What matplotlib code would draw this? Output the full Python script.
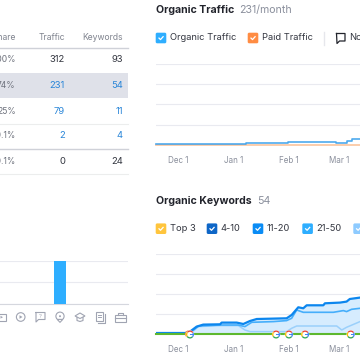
import matplotlib
matplotlib.use('Agg')

import matplotlib.pyplot as plt
from matplotlib.patches import Circle, FancyBboxPatch, Polygon, Rectangle, Wedge

plt.rcParams['font.family'] = ['Inter', 'DejaVu Sans']

# table
table_headers = ["Share", "Traffic", "Keywords"]
share_col = ["100%", "74%", "25%", "<0.1%", "<0.1%"]
traffic_col = ["312", "231", "79", "2", "0"]
keywords_col = ["93", "54", "11", "4", "24"]

# bar chart by category
bar_cats = [0, 1, 2, 3, 4, 5, 6]
bar_vals = [0, 0, 0, 100, 0, 0, 0]

# time axis, days since Dec 1
date_ticks = [0, 31, 62, 90]
date_labels = ["Dec 1", "Jan 1", "Feb 1", "Mar 1"]

# organic traffic
traffic_days = [-12.3, 15, 38, 61.5, 88.3, 94.2, 97, 101.7]
traffic_vals = [1.5, 3, 7, 12, 7, 17, 28, 28]
paid_days = [-12.3, 101.7]
paid_vals = [0, 0]

# organic keywords
kw_top_days = [-12.3, 4.9, 6.7, 10.4, 14.1, 23.5, 24.4, 32.8, 36.5, 40.2, 44, 60.7, 63.5,
               67.2, 70, 71.9, 81.2, 82.1, 90.5, 94.2, 96, 101.7]
kw_top_vals = [1.3, 1.3, 2.7, 7.7, 9.7, 10, 11.7, 11.7, 10.3, 13.3, 15.3, 16, 19.3,
               27, 26, 29, 29, 31, 31.7, 32.7, 35.3, 36.7]
kw_mid_days = [4.8, 8.6, 11.4, 23.5, 33.7, 37.4, 41.2, 53.3, 60.7, 63.5, 66.3, 70, 81.2,
               86.8, 92.4, 94.2, 97, 101.7]
kw_mid_vals = [2, 4.3, 8.3, 9.3, 9.3, 7.7, 12, 12.7, 13.7, 16, 24.3, 22, 22,
               22, 23.7, 22.7, 25, 26]
kw_low_days = [4.8, 8.6, 11.4, 23.5, 33.7, 37.4, 40.2, 53.3, 60.7, 63.5, 66.3, 88.7,
               91.5, 94.2, 101.7]
kw_low_vals = [2, 3.3, 7.7, 8.7, 8.7, 4.3, 2.7, 2.7, 2.7, 6, 8.3, 8.3, 4.3, 7, 12.7]
top3_days = [-12.3, 101.7]
top3_vals = [0, 0]
google_days = [6.7, 54.8, 62, 71, 96.5]

legend1 = [("Organic Traffic", "#2eaeff", 155.7), ("Paid Traffic", "#ff8c43", 247.7)]
legend2 = [("Top 3", "#ffc53d", 155.7), ("4-10", "#0e66c7", 206.7), ("11-20", "#0a8cf5", 252.7),
           ("21-50", "#2eaeff", 302.3), ("51-100", "#8ecbff", 353.3)]

GRID = "#e9eaf0"
TICK = "#8a8f9c"
DARK = "#333640"
LINK = "#2a86d8"


def px_axes(fig, left, top, right, bottom):
    return fig.add_axes([left / 360, 1 - bottom / 360, (right - left) / 360, (bottom - top) / 360])


def style_chart(ax, yticks):
    ax.set_xlim(-12.3, 101.7)
    ax.set_ylim(yticks[0], yticks[-1])
    ax.set_yticks(yticks)
    ax.set_xticks(date_ticks)
    ax.set_xticklabels(date_labels, fontsize=5.8, color=TICK)
    ax.tick_params(axis='x', length=0, pad=8)
    ax.tick_params(axis='y', length=0, labelleft=False)
    ax.grid(axis='y', color=GRID, linewidth=0.8)
    ax.set_axisbelow(True)
    for s in ax.spines.values():
        s.set_visible(False)


def checkbox(ov, x, y, color):
    ov.add_patch(FancyBboxPatch((x + 1.5, y - 3.8), 7.6, 7.6, boxstyle="round,pad=1.5", fc=color, ec='none'))
    ov.plot([x + 3.3, x + 4.8, x + 7.4], [y + 0.1, y + 1.6, y - 1.3], color='white', lw=0.9)


def legend(ov, items, y):
    for label, color, x in items:
        checkbox(ov, x, y, color)
        ov.text(x + 14, y, label, fontsize=6.7, color=DARK, va='center', ha='left')


def google(ov, x, y):
    ov.add_patch(Circle((x, y), 4.2, fc='white', ec='none', zorder=5))
    arcs = [(-45, 35, "#4285f4"), (35, 140, "#ea4335"), (140, 215, "#fbbc05"), (215, 315, "#34a853")]
    for t1, t2, c in arcs:
        # overlay y runs downwards, so flip the angles
        ov.add_patch(Wedge((x, y), 4.0, -t2, -t1, width=1.3, fc=c, ec='none', zorder=6))
    ov.add_patch(Rectangle((x, y - 0.5), 3.6, 1.1, fc="#4285f4", ec='none', zorder=7))


def draw_icons(ov, y):
    c = "#a0a4b2"
    kw = dict(fc='none', ec=c, lw=0.8)
    # video
    ov.add_patch(Rectangle((-3, y - 3), 8.5, 6.5, **kw))
    ov.add_patch(Polygon([[0.5, y - 1.2], [0.5, y + 1.6], [3, y + 0.2]], fc=c, ec='none'))
    # play
    ov.add_patch(Circle((20.7, y), 4.3, **kw))
    ov.add_patch(Polygon([[19.5, y - 1.8], [19.5, y + 1.8], [22.5, y]], fc=c, ec='none'))
    # question bubble
    ov.plot([36, 45, 45, 38.5, 36, 36], [y - 4.5, y - 4.5, y + 2.5, y + 2.5, y + 5, y - 4.5], color=c, lw=0.8)
    ov.text(40.5, y - 1, "?", fontsize=4, color=c, ha='center', va='center')
    # pin
    ov.add_patch(Circle((60, y - 0.8), 4.1, **kw))
    ov.add_patch(Polygon([[57.3, y + 2.4], [60, y + 5.4], [62.7, y + 2.4]], fc='white', ec=c, lw=0.8))
    ov.add_patch(Circle((60, y - 0.8), 1, fc=c, ec='none'))
    # cap
    ov.add_patch(Polygon([[75, y - 1], [80, y - 4], [85, y - 1], [80, y + 1.5]], **kw))
    ov.plot([77, 77, 80, 83, 83], [y + 0.5, y + 3.5, y + 4.5, y + 3.5, y + 0.5], color=c, lw=0.8)
    # documents
    ov.add_patch(Rectangle((96, y - 5), 6.5, 8.5, **kw))
    ov.plot([104.5, 104.5, 98], [y - 3, y + 5.5, y + 5.5], color=c, lw=0.8)
    ov.plot([98, 100.5], [y - 2.5, y - 2.5], color=c, lw=0.7)
    ov.plot([98, 100.5], [y, y], color=c, lw=0.7)
    # briefcase
    ov.add_patch(Rectangle((115, y - 2.5), 10.5, 7, **kw))
    ov.plot([118, 118, 122.5, 122.5], [y - 2.5, y - 4.5, y - 4.5, y - 2.5], color=c, lw=0.8)
    ov.plot([115, 125.5], [y + 0.5, y + 0.5], color=c, lw=0.8)


fig = plt.figure(figsize=(3.6, 3.6), dpi=100)

# bars bottom left
ax_bar = px_axes(fig, 0, 261, 128, 303.7)
ax_bar.bar(bar_cats, bar_vals, width=0.6, color="#2eaeff", zorder=3)
ax_bar.set_xlim(-1.0 / 19.75, 127.0 / 19.75)
ax_bar.set_ylim(0, 100)
ax_bar.set_yticks([0, 50, 100])
ax_bar.set_xticks([])
ax_bar.tick_params(axis='y', length=0, labelleft=False)
ax_bar.grid(axis='y', color=GRID, linewidth=0.8)
ax_bar.set_axisbelow(True)
for name, s in ax_bar.spines.items():
    s.set_visible(name == 'bottom')
ax_bar.spines['bottom'].set_color("#d5d7de")

# organic traffic
ax1 = px_axes(fig, 156, 64, 360, 144.7)
style_chart(ax1, [0, 100, 200, 300, 400])
ax1.plot(paid_days, paid_vals, color="#fbc9a5", lw=1.3, clip_on=False, zorder=3)
ax1.plot(traffic_days, traffic_vals, color="#2f9bea", lw=1.2, drawstyle='steps-post', clip_on=False,
         alpha=0.85, zorder=4)

# organic keywords
ax2 = px_axes(fig, 156, 254.3, 360, 334.3)
style_chart(ax2, [0, 20, 40, 60, 80])
ax2.fill_between(kw_top_days, kw_top_vals, 0, color="#d6ecfe", lw=0, zorder=2)
ax2.plot(kw_low_days, kw_low_vals, color="#9bd0fb", lw=1.1, zorder=3)
ax2.plot(kw_mid_days, kw_mid_vals, color="#45aefb", lw=1.2, zorder=4)
ax2.plot(kw_top_days, kw_top_vals, color="#0c86ee", lw=1.6, zorder=5)
ax2.plot(top3_days, top3_vals, color="#5db82f", lw=1.5, clip_on=False, zorder=6)

# overlay in pixels for table, titles, legends, icons
ov = fig.add_axes([0, 0, 1, 1], facecolor='none')
ov.set_xlim(0, 360)
ov.set_ylim(360, 0)
ov.axis('off')

ov.add_patch(Rectangle((0, 73), 128, 25.3, fc="#dfe1e9", ec='none', zorder=0))
for y, c, w in [(47.5, "#cfd1d8", 1.0), (123.5, "#eceded", 0.8), (149, "#cfd1d8", 1.0), (174, "#eceded", 0.8)]:
    ov.plot([0, 128], [y, y], color=c, lw=w)

col_right = [15.7, 65, 122.7]
for x, head in zip(col_right, table_headers):
    ov.text(x, 37, head, fontsize=6.2, color="#80848f", ha='right', va='center')

row_y = [60, 85.5, 111, 136, 162]
for i, y in enumerate(row_y):
    linked = i in (1, 2, 3)
    ov.text(col_right[0], y, share_col[i], fontsize=6.1, color="#6d717c", ha='right', va='center')
    ov.text(col_right[1], y, traffic_col[i], fontsize=6.8, color=LINK if linked else DARK, ha='right', va='center')
    ov.text(col_right[2], y, keywords_col[i], fontsize=6.8, color=LINK if linked else DARK, ha='right', va='center')

ov.text(156, 10, "Organic Traffic", fontsize=7.6, fontweight='bold', color="#22242c", va='center')
ov.text(239, 10, "231/month", fontsize=7.6, color="#8a8f9c", va='center')
ov.text(156, 200.7, "Organic Keywords", fontsize=7.6, fontweight='bold', color="#22242c", va='center')
ov.text(257.3, 200.7, "54", fontsize=7.6, color="#8a8f9c", va='center')

legend(ov, legend1, 38)
legend(ov, legend2, 228.7)

# notes toggle
ov.plot([324, 324], [32, 45], color="#e6e7ec", lw=1)
ov.plot([336.5, 345, 345, 339.5, 337, 336.5], [33.5, 33.5, 41, 41, 43.5, 33.5], color="#22242c", lw=0.9)
ov.text(349.3, 38, "Notes", fontsize=6.7, color=DARK, va='center')

ov.add_patch(Wedge((188.5, 334), 3.6, 90, 270, width=1.2, fc="#f2913b", ec='none', zorder=4))
for d in google_days:
    google(ov, 178 + 1.79 * d, 334.5)

draw_icons(ov, 317)

fig.savefig('out.png', dpi=100)
